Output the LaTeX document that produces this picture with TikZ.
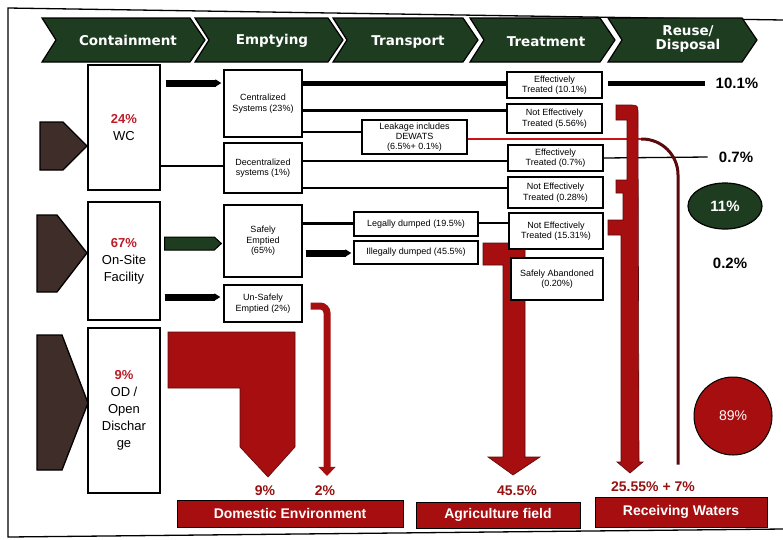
\documentclass[tikz,border=0pt]{standalone}
\usepackage{fontspec}
\setmainfont{Liberation Sans}
\newfontfamily\hdfont{DejaVu Sans}
\usetikzlibrary{arrows.meta,calc,shapes.geometric}
\definecolor{rd}{RGB}{166,14,16}
\definecolor{rdtxt}{RGB}{150,18,18}
\definecolor{pcred}{RGB}{190,28,40}
\definecolor{dg}{RGB}{30,60,32}
\definecolor{brn}{RGB}{62,45,40}
\definecolor{mar}{RGB}{90,10,12}
\definecolor{lred}{RGB}{200,20,25}
\begin{document}
\begin{tikzpicture}[x=1pt,y=-1pt,
  box/.style={draw=black,line width=1.3pt,fill=white,inner sep=0pt,align=center,font=\fontsize{9}{10.5}\selectfont},
  bigbox/.style={draw=black,line width=1.3pt,fill=white,inner sep=0pt,align=center,font=\fontsize{13}{17}\selectfont},
  hdr/.style={fill=dg,draw=black,line width=1.2pt},
  hdtext/.style={text=white,font=\hdfont\bfseries\fontsize{13.5}{15}\selectfont,align=center,inner sep=0pt},
  brarrow/.style={fill=brn,draw=black,line width=1.3pt},
  link/.style={black,line width=1.8pt},
  midlink/.style={black,line width=3pt},
  fat/.style={black,line width=5pt},
  fatarr/.style={black,line width=7pt,-{Triangle[length=6pt,width=7pt]}},
  redshape/.style={fill=rd,draw=mar,line width=0.6pt},
  bar/.style={fill=rd,draw=black,line width=0.8pt,text=white,font=\bfseries\fontsize{14}{16}\selectfont,inner sep=0pt},
  pct/.style={text=rdtxt,font=\bfseries\fontsize{14}{16}\selectfont,inner sep=1pt},
  rlab/.style={text=black,font=\bfseries\fontsize{15}{17}\selectfont,inner sep=1pt}
]
\useasboundingbox (0,0) rectangle (783,539);
% frame
\draw[black,line width=1.3pt] (783,20) -- (8,8) -- (8,537) -- (783,529);

% header chevrons
\foreach \L/\R in {42/190,195/328,333/463,470/600,608/742}
  \filldraw[hdr] (\L,18) -- (\R,18) -- (\R+15,40) -- (\R,62) -- (\L,62) -- (\L+14,40) -- cycle;
\node[hdtext] (h1) at (128,40) {Containment};
\node[hdtext] (h2) at (272,41) {Emptying};
\node[hdtext] (h3) at (408,42) {Transport};
\node[hdtext] (h4) at (546,42) {Treatment};
\node[hdtext] (h5) at (688,39) {Reuse/\\[-1pt]Disposal};

% brown input arrows
\filldraw[brarrow] (40,122) -- (63,122) -- (87,146) -- (63,170) -- (40,170) -- cycle;
\filldraw[brarrow] (37,215) -- (57,215) -- (87,253) -- (57,292) -- (37,292) -- cycle;
\filldraw[brarrow] (37,335) -- (62,335) -- (88,403) -- (62,470) -- (37,470) -- cycle;

% bottom bars and labels
\node[bar,minimum width=226pt,minimum height=27pt] (dom) at (290,513.5) {Domestic Environment};
\node[bar,minimum width=164pt,minimum height=26pt] (agr) at (498,515) {Agriculture field};
\node[bar,minimum width=172pt,minimum height=30pt] (rw) at (681,512) {Receiving Waters};
\node[pct] (p9) at (265,491) {9\%};
\node[pct] (p2) at (325,491) {2\%};
\node[pct] (p45) at (517,491) {45.5\%};
\node[pct] (p25) at (653,487) {25.55\% + 7\%};

% right labels
\node[rlab] (r10) at (737,83) {10.1\%};
\node[rlab] (r07) at (736,157) {0.7\%};
\node[rlab] (r02) at (730,263) {0.2\%};
\node[ellipse,fill=dg,draw=black,line width=1.2pt,minimum width=74pt,minimum height=46pt,text=white,font=\bfseries\fontsize{15}{17}\selectfont] (e11) at (725,206) {11\%};
\node[circle,fill=rd,draw=black,line width=1pt,minimum size=78pt,text=white,font=\fontsize{14}{16}\selectfont] (c89) at (733,416) {89\%};

% red flows (drawn under the boxes)
\filldraw[redshape] (168,332) -- (295,332) -- (295,447) -- (268,477) -- (240,447) -- (240,388) -- (168,388) -- cycle;
\filldraw[redshape] (483,243) -- (525,243) -- (525,457) -- (540,457) -- (513,475) -- (488,457) -- (503,457) -- (503,265) -- (483,265) -- cycle;

% coordinates for the leakage line
\coordinate (rj) at (641,139);

% nodes: containment
\node[bigbox,minimum width=72pt,minimum height=125pt] (wc) at (124,127.5) {\textcolor{pcred}{\bfseries 24\%}\\WC};
\node[bigbox,minimum width=72pt,minimum height=118pt] (os) at (124,261) {\textcolor{pcred}{\bfseries 67\%}\\On-Site\\Facility};
\node[bigbox,minimum width=72pt,minimum height=165pt] (od) at (124,410.5) {\textcolor{pcred}{\bfseries 9\%}\\OD /\\Open\\Dischar\\ge};
% emptying
\node[box,minimum width=78pt,minimum height=67pt] (cs) at (263,103.5) {Centralized\\Systems (23\%)};
\node[box,minimum width=78pt,minimum height=50pt] (ds) at (263,168) {Decentralized\\systems (1\%)};
\node[box,minimum width=78pt,minimum height=72pt] (se) at (263,241) {Safely\\Emptied\\(65\%)};
\node[box,minimum width=78pt,minimum height=37pt] (ue) at (263,303.5) {Un-Safely\\Emptied (2\%)};
% transport
\node[box,minimum width=105pt,minimum height=34pt,font=\fontsize{9}{10}\selectfont] (lk) at (414.5,137) {Leakage includes\\DEWATS\\(6.5\%+ 0.1\%)};
\node[box,minimum width=124pt,minimum height=24pt] (ld) at (416,224) {Legally dumped (19.5\%)};
\node[box,minimum width=124pt,minimum height=23pt] (id) at (416,252.5) {Illegally dumped (45.5\%)};
% treatment
\node[box,minimum width=95pt,minimum height=26pt] (et1) at (554.5,85) {Effectively\\Treated (10.1\%)};
\node[box,minimum width=95pt,minimum height=29pt] (ne1) at (554.5,118.5) {Not Effectively\\Treated (5.56\%)};
\node[box,minimum width=95pt,minimum height=26pt] (et2) at (555.5,158) {Effectively\\Treated (0.7\%)};
\node[box,minimum width=95pt,minimum height=31pt] (ne2) at (555.5,192.5) {Not Effectively\\Treated (0.28\%)};
\node[box,minimum width=94pt,minimum height=36pt] (ne3) at (556,231) {Not Effectively\\Treated (15.31\%)};
\node[box,minimum width=92pt,minimum height=42pt] (sa) at (557,279) {Safely Abandoned\\(0.20\%)};

% connectors
\draw[fat] (cs.east |- 0,83) -- (et1.west |- 0,83);
\draw[midlink] (cs.east |- 0,110) -- (ne1.west |- 0,110);
\draw[link] (cs.east |- 0,132) -- (lk.west |- 0,132);
\draw[link] (ds.east |- 0,161) -- (et2.west |- 0,161);
\draw[link] (ds.east |- 0,188) -- (ne2.west |- 0,188);
\draw[link] (wc.east |- 0,166) -- (ds.west |- 0,166);
\draw[midlink] (se.east |- 0,223) -- (ld.west |- 0,223);
\draw[link] (ld.east |- 0,223) -- (ne3.west |- 0,223);
\draw[fat] ($(et1.east |- 0,83)+(5,0)$) -- ($(r10.west)+(-10,0)$);
\draw[black,line width=1.3pt] (et2.east |- 0,158) -- ($(r07.west)+(-10,0)$);

\draw[fatarr] ($(wc.east |- 0,83)+(5,0)$) -- ($(cs.west |- 0,83)+(-2,0)$);
\draw[fatarr] ($(os.east |- 0,297)+(4,0)$) -- ($(ue.west |- 0,297)+(-3,0)$);
\draw[fatarr] ($(se.east |- 0,253)+(3,0)$) -- ($(id.west |- 0,253)+(-2,0)$);
% green arrow
\coordinate (ga1) at ($(os.east |- 0,243.5)+(4,0)$);
\coordinate (ga2) at ($(se.west |- 0,243.5)+(-2,0)$);
\filldraw[fill=dg,draw=black,line width=1pt] ($(ga1)+(0,-6.5)$) -- ($(ga2)+(-7,-6.5)$) -- (ga2) -- ($(ga2)+(-7,6.5)$) -- ($(ga1)+(0,6.5)$) -- cycle;

% leakage line and curve
\draw[lred,line width=2.5pt] (lk.east |- 0,139) -- (rj);
\draw[mar,line width=3pt,rounded corners=36pt] (rj) -| ($(rw.north)+(-3,-32)$);
% bracket
\filldraw[redshape] (616,105) -- (629,105) .. controls (638,105) .. (638,114) -- (639,462) -- (643,462) -- (630,473) -- (617,462) -- (621,462) -- (621,235) -- (608,235) -- (608,220) -- (623,220) -- (623,193) -- (616,193) -- (616,180) -- (627,180) -- (627,120) -- (616,120) -- cycle;
% un-safely red arrow
\draw[rd,line width=7pt,rounded corners=7pt,-{Triangle[length=9pt,width=17pt]}] ($(ue.east |- 0,306)+(8,0)$) -| ($(p2.north)+(2,-9)$);
\end{tikzpicture}
\end{document}
